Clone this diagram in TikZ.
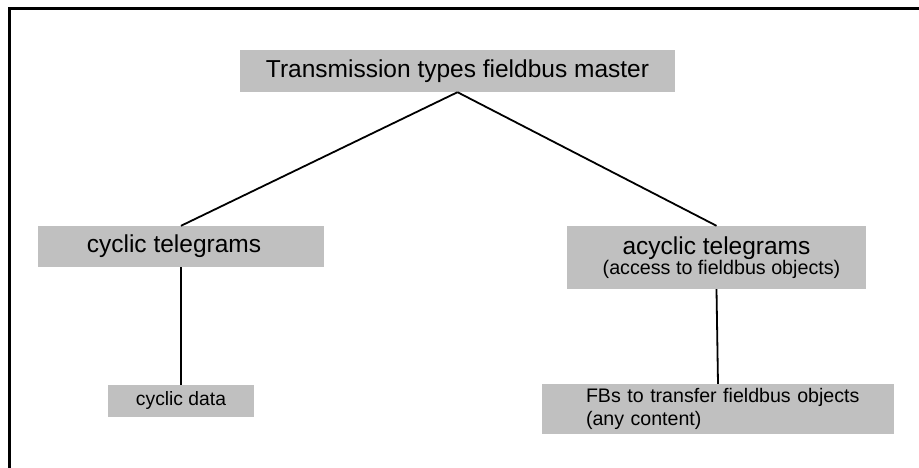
\documentclass[tikz,border=0pt]{standalone}
\usepackage{fontspec}
\setmainfont{Liberation Sans}
\usepackage{tikz}
\usetikzlibrary{positioning}
\definecolor{boxgray}{RGB}{192,192,192}

\begin{document}
\begin{tikzpicture}[
    x=1pt, y=-1pt,
    box/.style={rectangle, fill=boxgray, inner sep=0pt, align=center},
    bigfont/.style={font=\fontsize{24.5}{28}\selectfont},
    link/.style={line width=1.8pt}
]
\useasboundingbox (0,0) rectangle (919,468);

% Frame
\draw[line width=3pt] (9.5,470) -- (9.5,8.5) -- (922,8.5);

% Nodes
\node[box, bigfont, minimum width=435pt, minimum height=42pt] (master) at (457.5,71) {Transmission types fieldbus master};
\node[box, bigfont, minimum width=286pt, minimum height=41pt] (cyclic) at (181,246.5) {\hspace*{-14pt}cyclic telegrams};
\node[box, minimum width=299pt, minimum height=63pt] (acyclic) at (716.5,257.5)
    {{\fontsize{24.5}{24}\selectfont acyclic telegrams}\\[-1pt]{\fontsize{19.7}{24}\selectfont\hspace*{10pt}(access to fieldbus objects)}};
\node[box, font=\fontsize{19.3}{22}\selectfont, minimum width=146pt, minimum height=32pt] (cycdata) at (181,401) {cyclic data};
\node[box, align=left, font=\fontsize{19.6}{23}\selectfont, text width=308pt, inner xsep=22pt, minimum width=352pt, minimum height=50pt] (fbs) at (718,409)
    {\hspace*{22pt}FBs to transfer fieldbus objects\\\hspace*{22pt}(any content)};

% Lines
\draw[link] (master.south) -- (cyclic.north);
\draw[link] (master.south) -- (acyclic.north);
\draw[link] (cyclic.south) -- (cycdata.north);
\draw[link] (acyclic.south) -- (fbs.north);

\end{tikzpicture}
\end{document}
